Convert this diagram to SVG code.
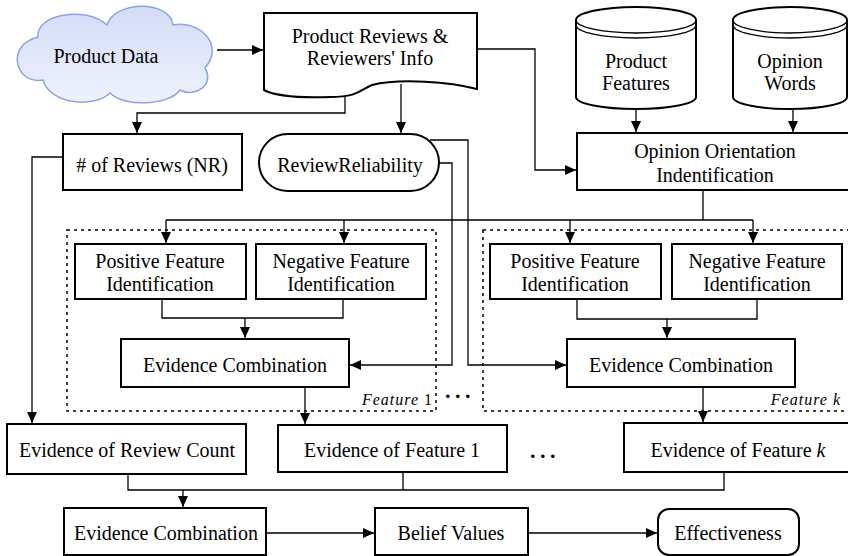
<svg xmlns="http://www.w3.org/2000/svg" width="848" height="556" viewBox="0 0 848 556" font-family="'Liberation Serif', 'DejaVu Serif', serif">
<defs>
<marker id="ah" markerUnits="userSpaceOnUse" markerWidth="12" markerHeight="10" refX="11" refY="5" orient="auto">
<path d="M0,0 L11,5 L0,10 Z" fill="#000"/>
</marker>
<linearGradient id="cg" x1="0" y1="0" x2="0" y2="1">
<stop offset="0" stop-color="#d2dcf6"/>
<stop offset="1" stop-color="#eef2fc"/>
</linearGradient>
<style>
text{font-family:'Liberation Serif','DejaVu Serif',serif;font-size:20px;fill:#000;text-anchor:middle}
.box{fill:#fff;stroke:#000;stroke-width:2}
.thin{fill:none;stroke:#000;stroke-width:1.3}
.con{fill:none;stroke:#000;stroke-width:1.3}
.arr{marker-end:url(#ah)}
.dash{fill:none;stroke:#000;stroke-width:1.5;stroke-dasharray:3,4}
.it{font-style:italic;font-size:16px;letter-spacing:1px;text-anchor:end}
.dots{font-size:22px;font-weight:bold;letter-spacing:4.5px}
</style>
</defs>
<rect width="848" height="556" fill="#fff"/>

<g id="feature1-group">
<rect class="dash" x="67" y="230" width="369" height="181"/>
<text class="it" x="433" y="405">Feature <tspan font-style="normal">1</tspan></text>
</g>
<g id="featurek-group">
<rect class="dash" x="483" y="230" width="370" height="181"/>
<text class="it" x="841" y="405">Feature k</text>
</g>

<g id="connectors">
<path class="con arr" d="M217,50 H263"/>
<path class="con arr" d="M345,97 V113 H137 V133"/>
<path class="con arr" d="M401,84 V133"/>
<path class="con arr" d="M477,49 H535 V170 H576"/>
<path class="con arr" d="M636,110 V132"/>
<path class="con arr" d="M793,110 V132"/>
<path class="con" d="M703,190 V220 M166,220 H753"/>
<path class="con arr" d="M166,220 V243"/>
<path class="con arr" d="M344,220 V243"/>
<path class="con arr" d="M570,220 V243"/>
<path class="con arr" d="M753,220 V243"/>
<path class="con arr" d="M63,157 H32 V423"/>
<path class="con arr" d="M439,163 H452 V365 H350"/>
<path class="con arr" d="M430,140 H468 V365 H566"/>
<path class="con" d="M162,299 V318 H343 V299"/>
<path class="con arr" d="M245,318 V338"/>
<path class="con" d="M577,299 V319 H757 V299"/>
<path class="con arr" d="M667,319 V338"/>
<path class="con arr" d="M305,387 V424"/>
<path class="con arr" d="M703,387 V422"/>
<path class="con" d="M128,474 V490 H724 V472 M403,472 V490"/>
<path class="con arr" d="M183,490 V507"/>
<path class="con arr" d="M266,533 H374"/>
<path class="con arr" d="M528,533 H657"/>
</g>

<g id="product-data">
<path d="M38,37 C35,15 85,5 107,25 C115,0 170,0 173,25 C200,20 225,45 205,68 C215,85 195,98 180,90 C170,105 125,108 110,93 C95,108 50,105 43,80 C15,85 5,45 38,37 Z" fill="url(#cg)" stroke="#8ea4dc" stroke-width="1.5"/>
<text x="106" y="63">Product Data</text>
</g>

<g id="product-reviews">
<path class="box" d="M264,13 H477 V89 C450,82 400,78 372,85 C360,90 358,97 330,97 C300,98 275,96 264,90 Z"/>
<text x="370" y="43">Product Reviews &amp;</text>
<text x="370" y="65">Reviewers' Info</text>
</g>

<g id="product-features">
<path class="box" d="M576,20 A60,13 0 0 1 696,20 V97 A60,12 0 0 1 576,97 Z"/>
<path class="thin" d="M576,20 A60,13 0 0 0 696,20 M576,25 A60,13 0 0 0 696,25"/>
<text x="636" y="68">Product</text>
<text x="636" y="90">Features</text>
</g>

<g id="opinion-words">
<path class="box" d="M733,20 A57,13 0 0 1 847,20 V97 A57,12 0 0 1 733,97 Z"/>
<path class="thin" d="M733,20 A57,13 0 0 0 847,20 M733,25 A57,13 0 0 0 847,25"/>
<text x="790" y="68">Opinion</text>
<text x="790" y="90">Words</text>
</g>

<g id="num-reviews">
<rect class="box" x="63" y="134" width="179" height="56"/>
<text x="152" y="172"># of Reviews (NR)</text>
</g>

<g id="review-reliability">
<rect class="box" x="259" y="134" width="180" height="57" rx="28.5"/>
<text x="350" y="172">ReviewReliability</text>
</g>

<g id="opinion-orientation">
<rect class="box" x="577" y="133" width="272" height="57"/>
<text x="715" y="158">Opinion Orientation</text>
<text x="715" y="182">Indentification</text>
</g>

<g id="pos1">
<rect class="box" x="75" y="244" width="171" height="55"/>
<text x="160" y="268">Positive Feature</text>
<text x="160" y="291">Identification</text>
</g>
<g id="neg1">
<rect class="box" x="256" y="244" width="170" height="55"/>
<text x="341" y="268">Negative Feature</text>
<text x="341" y="291">Identification</text>
</g>
<g id="ec1">
<rect class="box" x="121" y="339" width="228" height="48"/>
<text x="235" y="372">Evidence Combination</text>
</g>

<g id="pos2">
<rect class="box" x="490" y="244" width="171" height="55"/>
<text x="575" y="268">Positive Feature</text>
<text x="575" y="291">Identification</text>
</g>
<g id="neg2">
<rect class="box" x="672" y="244" width="170" height="55"/>
<text x="757" y="268">Negative Feature</text>
<text x="757" y="291">Identification</text>
</g>
<g id="ec2">
<rect class="box" x="567" y="339" width="228" height="48"/>
<text x="681" y="372">Evidence Combination</text>
</g>

<text class="dots" x="460" y="398">...</text>
<text class="dots" x="545" y="458">...</text>

<g id="ev-review-count">
<rect class="box" x="7" y="424" width="239" height="50"/>
<text x="127" y="457">Evidence of Review Count</text>
</g>
<g id="ev-feature1">
<rect class="box" x="278" y="425" width="229" height="47"/>
<text x="392" y="457">Evidence of Feature 1</text>
</g>
<g id="ev-featurek">
<rect class="box" x="624" y="423" width="226" height="49"/>
<text x="738" y="457">Evidence of Feature <tspan font-style="italic">k</tspan></text>
</g>

<g id="ec-final">
<rect class="box" x="64" y="508" width="202" height="47"/>
<text x="166" y="540">Evidence Combination</text>
</g>
<g id="belief-values">
<rect class="box" x="375" y="508" width="153" height="47"/>
<text x="451" y="540">Belief Values</text>
</g>
<g id="effectiveness">
<rect class="box" x="658" y="509" width="141" height="46" rx="11"/>
<text x="728" y="540">Effectiveness</text>
</g>
</svg>
